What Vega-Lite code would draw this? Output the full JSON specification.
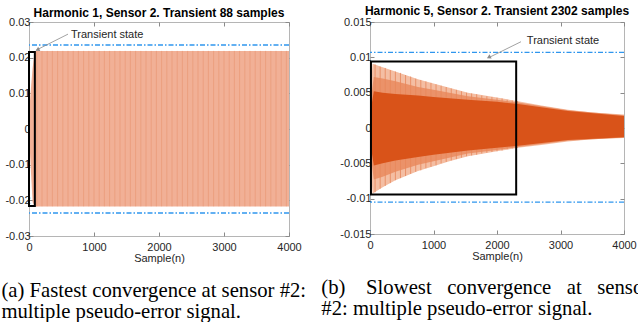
{
"$schema":"https://vega.github.io/schema/vega-lite/v6.json",
"padding":{"left":1,"top":0,"right":0,"bottom":0},
"spacing":14,
"config":{
 "view":{"stroke":"#b5b5b5","strokeWidth":1},
 "font":"Liberation Sans",
 "axis":{"domain":false,"grid":false,"tickSize":-4,"tickColor":"#8a8a8a","labelFont":"Liberation Sans","labelFontSize":11,"labelColor":"#262626","titleFont":"Liberation Sans","titleFontSize":11,"titleFontWeight":"normal","titleColor":"#262626","labelPadding":5,"titlePadding":0,"labelFlush":false},
 "axisX":{"labelPadding":9},
 "axisY":{"labelPadding":3},
 "title":{"font":"Liberation Sans","fontSize":12,"fontWeight":"bold","color":"#000000"}
},
"hconcat":[
 {
  "title":{"text":["(a) Fastest convergence at sensor #2:","multiple pseudo-error signal."],"orient":"bottom","anchor":"start","font":"Liberation Serif","fontSize":20.7,"fontWeight":"normal","lineHeight":21,"offset":17,"dx":-3,"color":"#000000"},
  "vconcat":[
   {
    "width":260,"height":214,
    "title":{"text":"Harmonic 1, Sensor 2. Transient 88 samples","offset":-4},
    "layer":[
     {"layer":[
      {"data":{"values":[{"n":0,"hi":0.0,"lo":0.0},{"n":8,"hi":0.006,"lo":-0.004},{"n":30,"hi":0.0115,"lo":-0.012},{"n":55,"hi":0.017,"lo":-0.0205},{"n":88,"hi":0.0219,"lo":-0.0217},{"n":4000,"hi":0.0219,"lo":-0.0217}]},
       "mark":{"type":"area","color":"#f1b096","opacity":1},
       "encoding":{
        "x":{"field":"n","type":"quantitative","scale":{"domain":[0,4000],"nice":false,"zero":false},"axis":null},
        "y":{"field":"hi","type":"quantitative","scale":{"domain":[-0.03,0.03],"nice":false,"zero":false},"axis":null},
        "y2":{"field":"lo"}}},
      {"data":{"values":[{"n":120},{"n":200},{"n":280},{"n":360},{"n":440},{"n":520},{"n":600},{"n":680},{"n":760},{"n":840},{"n":920},{"n":1000},{"n":1080},{"n":1160},{"n":1240},{"n":1320},{"n":1400},{"n":1480},{"n":1560},{"n":1640},{"n":1720},{"n":1800},{"n":1880},{"n":1960},{"n":2040},{"n":2120},{"n":2200},{"n":2280},{"n":2360},{"n":2440},{"n":2520},{"n":2600},{"n":2680},{"n":2760},{"n":2840},{"n":2920},{"n":3000},{"n":3080},{"n":3160},{"n":3240},{"n":3320},{"n":3400},{"n":3480},{"n":3560},{"n":3640},{"n":3720},{"n":3800},{"n":3880},{"n":3960}]},
       "mark":{"type":"rule","color":"#e58b63","strokeWidth":1,"opacity":0.45},
       "encoding":{"x":{"field":"n","type":"quantitative","axis":null},"y":{"datum":0.0219,"type":"quantitative","axis":null},"y2":{"datum":-0.0217}}},
      {"data":{"values":[{"v":0.02355},{"v":-0.02355}]},
       "mark":{"type":"rule","color":"#2f96ee","strokeWidth":1.3,"strokeDash":[5,2,1.5,2]},
       "encoding":{"y":{"field":"v","type":"quantitative","axis":null}}},
      {"data":{"values":[{"n1":0,"n2":90,"a":0.0216,"b":-0.0216}]},
       "mark":{"type":"rect","fillOpacity":0,"stroke":"#000000","strokeWidth":2},
       "encoding":{"x":{"field":"n1","type":"quantitative","axis":null},"x2":{"field":"n2"},"y":{"field":"a","type":"quantitative","axis":null},"y2":{"field":"b"}}},
      {"data":{"values":[{"n1":600,"a1":0.0266,"n2":110,"a2":0.0221}]},
       "mark":{"type":"rule","color":"#8a8a8a","strokeWidth":0.8},
       "encoding":{"x":{"field":"n1","type":"quantitative","axis":null},"x2":{"field":"n2"},"y":{"field":"a1","type":"quantitative","axis":null},"y2":{"field":"a2"}}},
      {"data":{"values":[{"n":130,"a":0.0222}]},
       "mark":{"type":"point","shape":"triangle-up","angle":243,"size":22,"filled":true,"color":"#8a8a8a","opacity":1},
       "encoding":{"x":{"field":"n","type":"quantitative","axis":null},"y":{"field":"a","type":"quantitative","axis":null}}},
      {"data":{"values":[{"n":646,"a":0.0264,"t":"Transient state"}]},
       "mark":{"type":"text","align":"left","baseline":"middle","font":"Liberation Sans","fontSize":11,"color":"#262626"},
       "encoding":{"x":{"field":"n","type":"quantitative","axis":null},"y":{"field":"a","type":"quantitative","axis":null},"text":{"field":"t"}}}
     ]},
     {"data":{"values":[{"n":0,"a":0}]},
      "mark":{"type":"point","opacity":0},
      "encoding":{"x":{"field":"n","type":"quantitative","axis":{"orient":"bottom","values":[0,1000,2000,3000,4000],"format":"d","title":"Sample(n)"}},"y":{"field":"a","type":"quantitative","axis":{"orient":"left","values":[-0.03,-0.02,-0.01,0,0.01,0.02,0.03],"title":null,"labelExpr":"replace(format(datum.value,'.2~f'),'−','-')"}}}},
     {"data":{"values":[{"n":0,"a":0}]},
      "mark":{"type":"point","opacity":0},
      "encoding":{"x":{"field":"n","type":"quantitative","axis":{"orient":"top","labels":false,"title":null,"values":[0,1000,2000,3000,4000]}},"y":{"field":"a","type":"quantitative","axis":{"orient":"right","labels":false,"title":null,"values":[-0.03,-0.02,-0.01,0,0.01,0.02,0.03]}}}}
    ],
    "resolve":{"axis":{"x":"independent","y":"independent"}}
   }
  ]
 },
 {
  "title":{"text":["(b)\u00a0\u00a0\u00a0\u00a0Slowest\u00a0\u00a0\u00a0convergence\u00a0\u00a0\u00a0at\u00a0\u00a0\u00a0sensor","#2: multiple pseudo-error signal."],"orient":"bottom","anchor":"start","font":"Liberation Serif","fontSize":20.7,"fontWeight":"normal","lineHeight":21,"offset":16,"dx":-18,"color":"#000000"},
  "vconcat":[
   {
    "width":254,"height":212,
    "title":{"text":["","Harmonic 5, Sensor 2. Transient 2302 samples"],"lineHeight":4,"offset":-2},
    "layer":[
     {"layer":[
      {"data":{"values":[{"n":0,"hi":0.0,"lo":0.0},{"n":15,"hi":0.006,"lo":-0.006},{"n":40,"hi":0.0091,"lo":-0.0093},{"n":74,"hi":0.009,"lo":-0.0091},{"n":200,"hi":0.0086,"lo":-0.0084},{"n":400,"hi":0.008,"lo":-0.0074},{"n":756,"hi":0.0069,"lo":-0.0061},{"n":1000,"hi":0.0063,"lo":-0.0054},{"n":1250,"hi":0.0057,"lo":-0.0047},{"n":1543,"hi":0.005,"lo":-0.004},{"n":2000,"hi":0.0043,"lo":-0.0033},{"n":2331,"hi":0.0038,"lo":-0.0028},{"n":2700,"hi":0.0032,"lo":-0.0024},{"n":3118,"hi":0.0026,"lo":-0.0019},{"n":3500,"hi":0.0022,"lo":-0.0016},{"n":4000,"hi":0.0019,"lo":-0.0014}]},
       "mark":{"type":"area","color":"#f4bea3","opacity":1},
       "encoding":{
        "x":{"field":"n","type":"quantitative","scale":{"domain":[0,4000],"nice":false,"zero":false},"axis":null},
        "y":{"field":"hi","type":"quantitative","scale":{"domain":[-0.015,0.015],"nice":false,"zero":false},"axis":null},
        "y2":{"field":"lo"}}},
      {"data":{"values":[{"n":80,"hi":0.009,"lo":-0.0091},{"n":160,"hi":0.0087,"lo":-0.0086},{"n":240,"hi":0.0085,"lo":-0.0082},{"n":320,"hi":0.0082,"lo":-0.0078},{"n":400,"hi":0.008,"lo":-0.0074},{"n":480,"hi":0.0078,"lo":-0.0071},{"n":560,"hi":0.0075,"lo":-0.0068},{"n":640,"hi":0.0073,"lo":-0.0065},{"n":720,"hi":0.007,"lo":-0.0062},{"n":800,"hi":0.0068,"lo":-0.006},{"n":880,"hi":0.0066,"lo":-0.0057},{"n":960,"hi":0.0064,"lo":-0.0055},{"n":1040,"hi":0.0062,"lo":-0.0053},{"n":1120,"hi":0.006,"lo":-0.005},{"n":1200,"hi":0.0058,"lo":-0.0048},{"n":1280,"hi":0.0056,"lo":-0.0046},{"n":1360,"hi":0.0054,"lo":-0.0044},{"n":1440,"hi":0.0052,"lo":-0.0042},{"n":1520,"hi":0.005,"lo":-0.004},{"n":1600,"hi":0.0049,"lo":-0.0039},{"n":1680,"hi":0.0048,"lo":-0.0038},{"n":1760,"hi":0.0046,"lo":-0.0036},{"n":1840,"hi":0.0045,"lo":-0.0035},{"n":1920,"hi":0.0044,"lo":-0.0034},{"n":2000,"hi":0.0043,"lo":-0.0033},{"n":2080,"hi":0.0042,"lo":-0.0032},{"n":2160,"hi":0.004,"lo":-0.003},{"n":2240,"hi":0.0039,"lo":-0.0029},{"n":2320,"hi":0.0038,"lo":-0.0028}]},
       "mark":{"type":"rule","color":"#e0662f","strokeWidth":1,"opacity":0.5},
       "encoding":{"x":{"field":"n","type":"quantitative","axis":null},"y":{"field":"hi","type":"quantitative","axis":null},"y2":{"field":"lo"}}},
      {"data":{"values":[{"n":0,"hi":0.0,"lo":0.0},{"n":20,"hi":0.0045,"lo":-0.0045},{"n":60,"hi":0.0072,"lo":-0.0073},{"n":200,"hi":0.007,"lo":-0.0069},{"n":400,"hi":0.0066,"lo":-0.0062},{"n":756,"hi":0.0058,"lo":-0.0052},{"n":1000,"hi":0.0054,"lo":-0.0047},{"n":1543,"hi":0.0045,"lo":-0.0036},{"n":2000,"hi":0.004,"lo":-0.0031},{"n":2331,"hi":0.0036,"lo":-0.0027},{"n":3118,"hi":0.0025,"lo":-0.0018},{"n":4000,"hi":0.0018,"lo":-0.00135}]},
       "mark":{"type":"area","color":"#e8875a","opacity":0.8},
       "encoding":{"x":{"field":"n","type":"quantitative","axis":null},"y":{"field":"hi","type":"quantitative","axis":null},"y2":{"field":"lo"}}},
      {"data":{"values":[{"n":0,"hi":0.0,"lo":0.0},{"n":20,"hi":0.003,"lo":-0.003},{"n":60,"hi":0.0052,"lo":-0.0053},{"n":200,"hi":0.005,"lo":-0.005},{"n":400,"hi":0.0048,"lo":-0.0046},{"n":756,"hi":0.0046,"lo":-0.0041},{"n":1000,"hi":0.0044,"lo":-0.0038},{"n":1543,"hi":0.0040,"lo":-0.0032},{"n":2000,"hi":0.0037,"lo":-0.0028},{"n":2331,"hi":0.0034,"lo":-0.0025},{"n":3118,"hi":0.0024,"lo":-0.0017},{"n":4000,"hi":0.0017,"lo":-0.0013}]},
       "mark":{"type":"area","color":"#d95319","opacity":1},
       "encoding":{"x":{"field":"n","type":"quantitative","axis":null},"y":{"field":"hi","type":"quantitative","axis":null},"y2":{"field":"lo"}}},
      {"data":{"values":[{"v":0.0107},{"v":-0.0105}]},
       "mark":{"type":"rule","color":"#2f96ee","strokeWidth":1.3,"strokeDash":[5,2,1.5,2]},
       "encoding":{"y":{"field":"v","type":"quantitative","axis":null}}},
      {"data":{"values":[{"n1":15,"n2":2302,"a":0.0094,"b":-0.0094}]},
       "mark":{"type":"rect","fillOpacity":0,"stroke":"#000000","strokeWidth":2},
       "encoding":{"x":{"field":"n1","type":"quantitative","axis":null},"x2":{"field":"n2"},"y":{"field":"a","type":"quantitative","axis":null},"y2":{"field":"b"}}},
      {"data":{"values":[{"n1":2378,"a1":0.01221,"n2":1880,"a2":0.0100}]},
       "mark":{"type":"rule","color":"#8a8a8a","strokeWidth":0.8},
       "encoding":{"x":{"field":"n1","type":"quantitative","axis":null},"x2":{"field":"n2"},"y":{"field":"a1","type":"quantitative","axis":null},"y2":{"field":"a2"}}},
      {"data":{"values":[{"n":1870,"a":0.0100}]},
       "mark":{"type":"point","shape":"triangle-up","angle":243,"size":22,"filled":true,"color":"#8a8a8a","opacity":1},
       "encoding":{"x":{"field":"n","type":"quantitative","axis":null},"y":{"field":"a","type":"quantitative","axis":null}}},
      {"data":{"values":[{"n":2470,"a":0.0123,"t":"Transient state"}]},
       "mark":{"type":"text","align":"left","baseline":"middle","font":"Liberation Sans","fontSize":11,"color":"#262626"},
       "encoding":{"x":{"field":"n","type":"quantitative","axis":null},"y":{"field":"a","type":"quantitative","axis":null},"text":{"field":"t"}}}
     ]},
     {"data":{"values":[{"n":0,"a":0}]},
      "mark":{"type":"point","opacity":0},
      "encoding":{"x":{"field":"n","type":"quantitative","axis":{"orient":"bottom","values":[0,1000,2000,3000,4000],"format":"d","title":"Sample(n)"}},"y":{"field":"a","type":"quantitative","axis":{"orient":"left","values":[-0.015,-0.01,-0.005,0,0.005,0.01,0.015],"title":null,"labelExpr":"replace(format(datum.value,'.3~f'),'−','-')"}}}},
     {"data":{"values":[{"n":0,"a":0}]},
      "mark":{"type":"point","opacity":0},
      "encoding":{"x":{"field":"n","type":"quantitative","axis":{"orient":"top","labels":false,"title":null,"values":[0,1000,2000,3000,4000]}},"y":{"field":"a","type":"quantitative","axis":{"orient":"right","labels":false,"title":null,"values":[-0.015,-0.01,-0.005,0,0.005,0.01,0.015]}}}}
    ],
    "resolve":{"axis":{"x":"independent","y":"independent"}}
   }
  ]
 }
]
}
